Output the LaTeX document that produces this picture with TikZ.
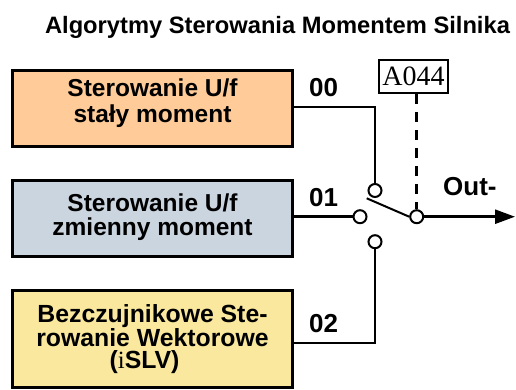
\documentclass[tikz,border=0pt]{standalone}
\usepackage{fontspec}
\setmainfont{Liberation Sans}
\newfontfamily\seriffont{Liberation Serif}
\usetikzlibrary{arrows.meta}
\definecolor{boxorange}{HTML}{FFCC99}
\definecolor{boxblue}{HTML}{CBD5E0}
\definecolor{boxyellow}{HTML}{FAE89E}
\begin{document}
\begin{tikzpicture}[x=1bp,y=-1bp,
  titletext/.style={inner sep=0pt,font=\fontsize{23.7bp}{26bp}\selectfont\bfseries},
  blockbox/.style={draw,line width=3bp,minimum width=280bp,inner sep=0pt},
  boxtext/.style={inner sep=0pt,align=center},
  lab/.style={inner sep=0pt,font=\fontsize{26bp}{28bp}\selectfont\bfseries},
  sw/.style={circle,draw,line width=2bp,fill=white,minimum size=13bp,inner sep=0pt},
  wire/.style={line width=2.5bp},
  lever/.style={line width=2bp},
  selbox/.style={draw,line width=1.5bp,inner sep=0pt,minimum width=69bp,minimum height=33bp,font=\seriffont\fontsize{28bp}{30bp}\selectfont}
]
\useasboundingbox (0,0) rectangle (516,389);
\node[titletext,anchor=base] (title) at (277.5,33) {Algorytmy Sterowania Momentem Silnika};

\node[blockbox,fill=boxorange,minimum height=75.5bp] (b1) at (152.5,108.25) {};
\node[blockbox,fill=boxblue,minimum height=76bp] (b2) at (152.5,218.5) {};
\node[blockbox,fill=boxyellow,minimum height=97bp] (b3) at (152.5,339) {};

\node[boxtext,font=\fontsize{24.5bp}{26bp}\selectfont\bfseries] (t1) at (152.5,103.5) {Sterowanie U/f\\stały moment};
\node[boxtext,font=\fontsize{24.5bp}{23.5bp}\selectfont\bfseries] (t2) at (152.5,217) {Sterowanie U/f\\zmienny moment};
\node[boxtext,font=\fontsize{24.8bp}{22.5bp}\selectfont\bfseries] (t3) at (152.5,339) {Bezczujnikowe Ste-\\rowanie Wektorowe\\({\seriffont\mdseries i}SLV)\hspace*{16bp}\mbox{}};

\node[lab,anchor=base west] (l00) at (309,96) {00};
\node[lab,anchor=base west] (l01) at (309,206) {01};
\node[lab,anchor=base west] (l02) at (309,332) {02};
\node[lab,anchor=base west] (lout) at (443,195) {Out-};

\node[selbox] (sel) at (413.5,76.5) {A044};

\node[sw] (c0) at (375,190.5) {};
\node[sw] (c1) at (360,216.7) {};
\node[sw] (c2) at (375,241.7) {};
\node[sw] (co) at (416.7,216.7) {};

\coordinate (y00) at (0,107);
\coordinate (y02) at (0,343);
\coordinate (lv) at (366.7,198.3);
\coordinate (outend) at (515,216.7);

\draw[wire] (b1.east |- y00) -| (c0.north);
\draw[wire] (b2.east |- c1) -- (c1.west);
\draw[wire] (c2.south) |- (b3.east |- y02);
\draw[lever] (lv) -- (co.west);
\draw[wire,dash pattern=on 10bp off 8bp] (sel.south -| co.north) -- (co.north);
\draw[wire,-{Triangle[length=20bp,width=14bp]}] (co.east) -- (outend);
\end{tikzpicture}
\end{document}
